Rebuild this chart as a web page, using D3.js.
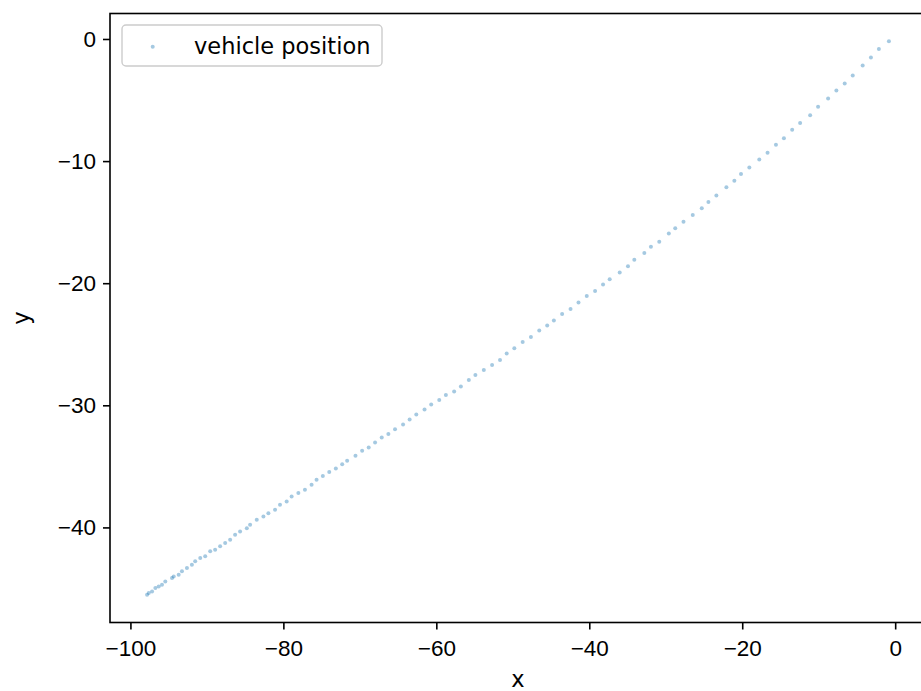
<!DOCTYPE html>
<html>
<head>
<meta charset="utf-8">
<script src="https://cdn.jsdelivr.net/npm/d3@7"></script>
<style>
  body { margin: 0; background: #fff; }
  svg { display: block; font-family: 'DejaVu Sans', sans-serif; }
  .tick text { font-size: 22.5px; fill: #000; }
  .axis-label { font-size: 22.5px; fill: #000; }
</style>
</head>
<body>
<div id="wrapper"></div>
<script>
// vehicle positions (x, y in metres)
const xValues = [
  -0.82, -2.13, -3.17, -4.25, -5.55, -6.60, -7.69, -8.77, -10.08, -11.12,
  -12.43, -13.47, -14.55, -15.59, -16.69, -17.77, -19.07, -20.16, -21.03, -22.07,
  -23.38, -24.42, -25.29, -26.47, -27.68, -28.76, -29.60, -30.85, -31.94, -32.80,
  -34.11, -34.94, -36.02, -37.33, -38.20, -39.24, -40.33, -41.41, -42.45, -43.55,
  -44.63, -45.50, -46.54, -47.63, -48.71, -49.80, -50.80, -51.67, -52.71, -53.79,
  -54.89, -55.75, -56.79, -57.67, -58.75, -59.62, -60.67, -61.54, -62.62, -63.49,
  -64.35, -65.40, -66.27, -67.14, -68.01, -68.84, -69.70, -70.57, -71.66, -72.31,
  -73.14, -74.00, -74.84, -75.66, -76.31, -77.18, -78.04, -78.92, -79.57, -80.44,
  -81.09, -81.96, -82.61, -83.48, -84.35, -84.78, -85.66, -86.31, -86.96, -87.61,
  -88.27, -88.92, -89.57, -90.22, -90.87, -91.53, -91.96, -92.61, -93.26, -93.69,
  -94.34, -94.56, -95.44, -95.87, -96.30, -96.74, -97.17, -97.60, -97.82
]
const yValues = [
  -0.18, -0.83, -1.51, -2.17, -2.99, -3.64, -4.21, -4.87, -5.55, -6.24,
  -6.89, -7.43, -8.12, -8.66, -9.31, -9.86, -10.52, -11.06, -11.60, -12.15,
  -12.81, -13.36, -13.87, -14.42, -14.96, -15.51, -15.92, -16.60, -17.01, -17.53,
  -18.07, -18.62, -19.13, -19.68, -20.11, -20.64, -21.05, -21.59, -22.11, -22.52,
  -23.06, -23.47, -23.88, -24.40, -24.81, -25.33, -25.76, -26.29, -26.69, -27.10,
  -27.51, -27.92, -28.46, -28.87, -29.15, -29.56, -29.93, -30.34, -30.75, -31.16,
  -31.57, -31.96, -32.36, -32.64, -33.04, -33.45, -33.73, -34.14, -34.55, -34.82,
  -35.17, -35.47, -35.78, -36.10, -36.51, -36.92, -37.19, -37.46, -37.87, -38.15,
  -38.56, -38.83, -39.10, -39.38, -39.79, -40.06, -40.33, -40.61, -41.01, -41.28,
  -41.55, -41.83, -41.96, -42.37, -42.51, -42.78, -43.06, -43.33, -43.60, -43.88,
  -44.01, -44.15, -44.42, -44.70, -44.83, -44.97, -45.24, -45.38, -45.52
]
const xTicks = [-100, -80, -60, -40, -20, 0]
const yTicks = [0, -10, -20, -30, -40]
const legendLabel = 'vehicle position'

const dataset = xValues.map((x, i) => ({ x: x, y: yValues[i] }))
const xAccessor = (d) => d.x
const yAccessor = (d) => d.y

// chart dimensions (the figure runs a little past the right edge of the window)
let dimensions = {
  width: 921,
  height: 691,
  margin: { top: 13.5, right: -5, bottom: 68.5, left: 110 },
}
dimensions.boundedWidth =
  dimensions.width - dimensions.margin.left - dimensions.margin.right
dimensions.boundedHeight =
  dimensions.height - dimensions.margin.top - dimensions.margin.bottom

const wrapper = d3
  .select('#wrapper')
  .append('svg')
  .attr('width', dimensions.width)
  .attr('height', dimensions.height)

const bounds = wrapper
  .append('g')
  .attr('transform', `translate(${dimensions.margin.left},${dimensions.margin.top})`)

// scales with matplotlib style 5% padding
const pad = (ext) => {
  const span = ext[1] - ext[0]
  return [ext[0] - span * 0.05, ext[1] + span * 0.05]
}
const xScale = d3
  .scaleLinear()
  .domain(pad(d3.extent(dataset, xAccessor)))
  .range([0, dimensions.boundedWidth])
const yScale = d3
  .scaleLinear()
  .domain(pad(d3.extent(dataset, yAccessor)))
  .range([dimensions.boundedHeight, 0])

// dots
bounds
  .selectAll('circle.dot')
  .data(dataset)
  .enter()
  .append('circle')
  .attr('class', 'dot')
  .attr('cx', (d) => xScale(xAccessor(d)))
  .attr('cy', (d) => yScale(yAccessor(d)))
  .attr('r', 2)
  .style('fill', '#1f77b4')
  .style('opacity', 0.4)

// axes
const xAxis = bounds
  .append('g')
  .attr('transform', `translate(0,${dimensions.boundedHeight})`)
  .call(d3.axisBottom(xScale).tickValues(xTicks).tickSize(7).tickPadding(7))
const yAxis = bounds
  .append('g')
  .call(d3.axisLeft(yScale).tickValues(yTicks).tickSize(7).tickPadding(7))
;[xAxis, yAxis].forEach((a) => {
  a.select('.domain').remove()
  a.selectAll('.tick line').attr('stroke', '#000').attr('stroke-width', 1.6)
})
xAxis.selectAll('.tick text').attr('dy', '0.85em')

// frame
bounds
  .append('rect')
  .attr('width', dimensions.boundedWidth)
  .attr('height', dimensions.boundedHeight)
  .attr('fill', 'none')
  .attr('stroke', '#000')
  .attr('stroke-width', 1.6)

wrapper
  .append('text')
  .attr('class', 'axis-label')
  .attr('x', dimensions.margin.left + dimensions.boundedWidth / 2)
  .attr('y', 687)
  .attr('text-anchor', 'middle')
  .text('x')

wrapper
  .append('text')
  .attr('class', 'axis-label')
  .attr('transform', `translate(29,${dimensions.margin.top + dimensions.boundedHeight / 2}) rotate(-90)`)
  .attr('text-anchor', 'middle')
  .text('y')

// legend
const legend = bounds.append('g').attr('transform', 'translate(12,11.5)')
legend
  .append('rect')
  .attr('width', 260)
  .attr('height', 41)
  .attr('rx', 4)
  .attr('fill', '#fff')
  .attr('fill-opacity', 0.8)
  .attr('stroke', '#ccc')
  .attr('stroke-width', 1.4)
legend
  .append('circle')
  .attr('cx', 30.7)
  .attr('cy', 21.7)
  .attr('r', 2)
  .style('fill', '#1f77b4')
  .style('opacity', 0.4)
legend
  .append('text')
  .attr('x', 72)
  .attr('y', 28.5)
  .style('font-size', '22.5px')
  .text(legendLabel)
</script>
</body>
</html>
